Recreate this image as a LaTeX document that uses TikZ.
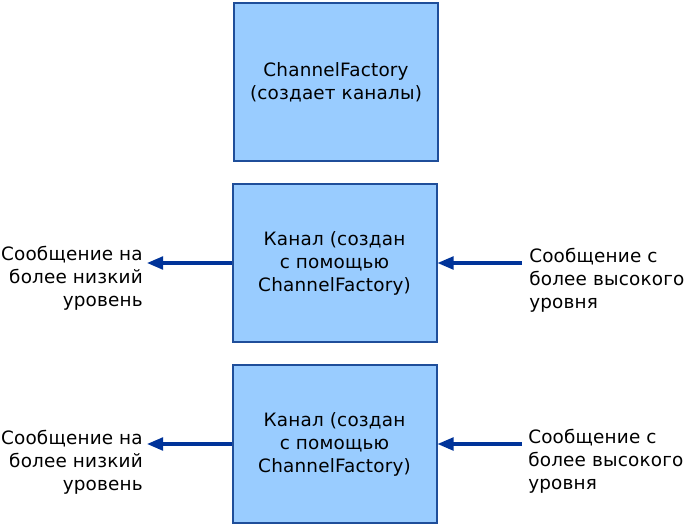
\documentclass[tikz,border=0pt]{standalone}
\usepackage{fontspec}
\setmainfont{DejaVu Sans}[LetterSpace=1]
\usetikzlibrary{arrows.meta}
\definecolor{boxfill}{HTML}{99CCFF}
\definecolor{boxline}{HTML}{1F4E9A}
\definecolor{arrowblue}{HTML}{003399}

\begin{document}
\begin{tikzpicture}[x=0.75pt,y=-0.75pt]
      \useasboundingbox (0,0) rectangle (694,526);
      \begin{scope}[every node/.style={rectangle,draw=boxline,fill=boxfill,line width=1.5pt,minimum width=153pt,minimum height=119pt,align=center,font=\fontsize{13.8}{17.25}\selectfont}]
        \node (factory) at (336,82) {ChannelFactory\\(создает каналы)};
        \node (channel1) at (334.5,263) {Канал (создан\\с помощью\\ChannelFactory)};
        \node (channel2) at (334.5,444) {Канал (создан\\с помощью\\ChannelFactory)};
      \end{scope}
      \begin{scope}[every node/.style={inner sep=0pt,font=\fontsize{13.8}{17.25}\selectfont}]
        \node[anchor=east,align=right] (lower1) at (143,278) {Сообщение на\\более низкий\\уровень};
        \node[anchor=west,align=left] (higher1) at (529,280) {Сообщение с\\более высокого\\уровня};
        \node[anchor=east,align=right] (lower2) at (143,462) {Сообщение на\\более низкий\\уровень};
        \node[anchor=west,align=left] (higher2) at (528,461) {Сообщение с\\более высокого\\уровня};
      \end{scope}
      \coordinate (lowertip1) at (147,263);
      \coordinate (highertail1) at (522,263);
      \coordinate (lowertip2) at (147,444);
      \coordinate (highertail2) at (522,444);
      \begin{scope}[every edge/.style={draw=arrowblue,line width=2.3pt,-{Triangle[length=12pt,width=9.5pt]}}]
        \path (channel1) edge (lowertip1);
        \path (highertail1) edge (channel1);
        \path (channel2) edge (lowertip2);
        \path (highertail2) edge (channel2);
      \end{scope}
    \end{tikzpicture}
\end{document}
